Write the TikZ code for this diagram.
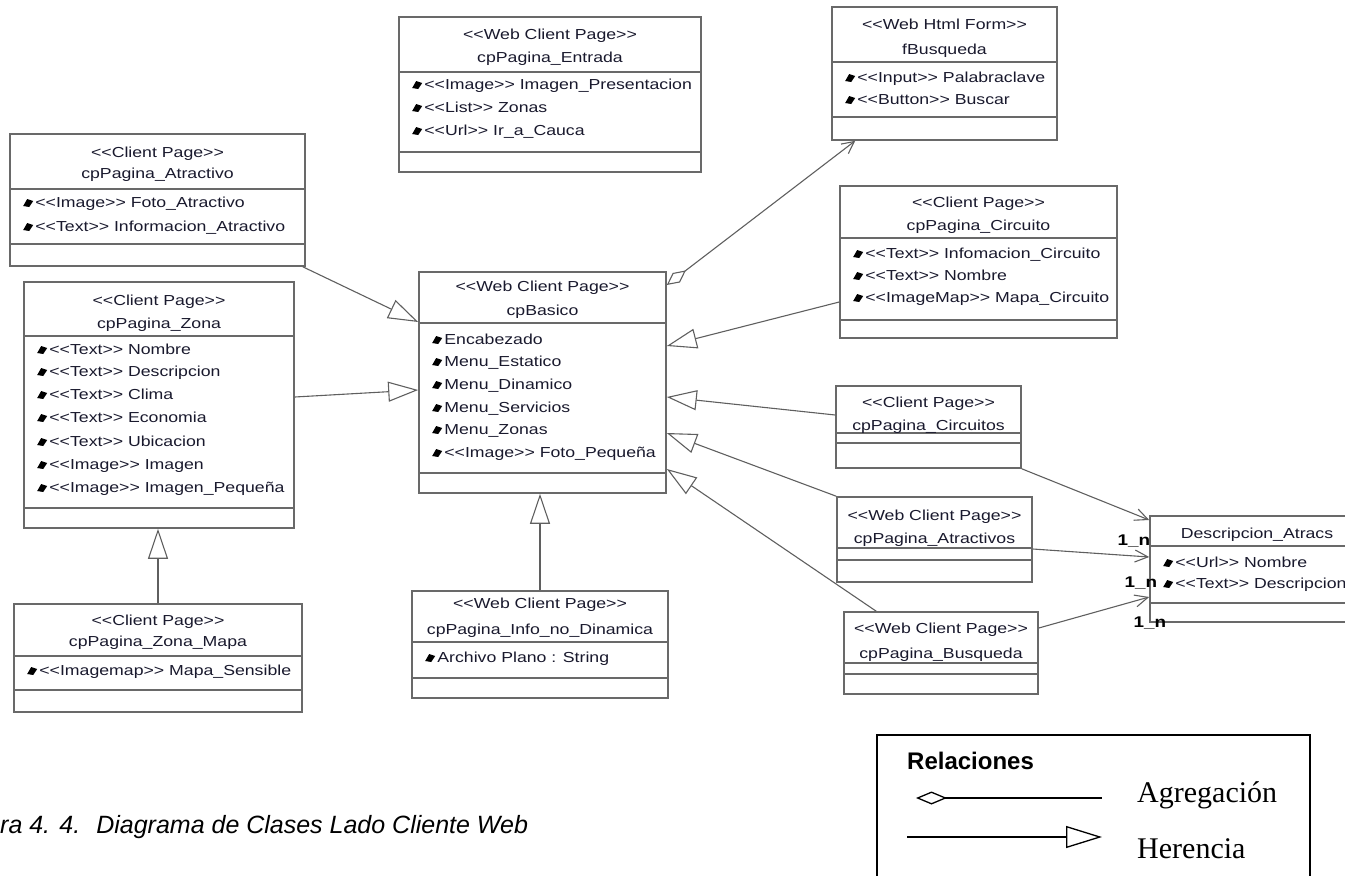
\documentclass[tikz,border=0pt]{standalone}
\usepackage{fontspec}
\newfontfamily\umlfont[FakeStretch=1.22]{Liberation Sans}
\newfontfamily\capfont{Liberation Sans}
\newfontfamily\legserif{Liberation Serif}
\usetikzlibrary{arrows.meta,fit,calc}

\definecolor{boxline}{RGB}{105,105,105}
\definecolor{connline}{RGB}{95,95,95}
\definecolor{umltext}{RGB}{25,25,45}

\tikzset{
  classbox/.style={draw=boxline, line width=1.6pt, inner sep=0pt, fill=white},
  comp/.style={draw=boxline, line width=1.6pt},
  ctext/.style={font=\umlfont\fontsize{14.5}{17}\selectfont, text=umltext, inner sep=0pt, anchor=base},
  atext/.style={ctext, anchor=base west},
  mult/.style={font=\umlfont\bfseries\fontsize{15.5}{18}\selectfont, text=black, inner sep=0pt},
  inherit/.style={draw=connline, line width=1.1pt, -{Triangle[open, length=30pt, width=20pt]}},
  assoc/.style={draw=connline, line width=1.1pt, -{Straight Barb[length=13pt, width=12pt]}},
  aggreg/.style={draw=connline, line width=1.1pt,
    {Diamond[open, length=24pt, width=12pt]}-{Straight Barb[length=12pt, width=12pt]}},
  attricon/.pic={\fill[black] (-5,3) -- (-1,-4) -- (5,-2) -- (1,4) -- cycle;},
  legline/.style={draw=black, line width=1.3pt},
}

% class frame: name, x1, y1, x2, y2, header line y, attribute separator y
\newcommand\classframe[7]{%
  \node[classbox, fit={(#2,#3)(#4,#5)}] (#1) {};
  \draw[comp] (#2,#6) -- (#4,#6) (#2,#7) -- (#4,#7);}
% class header: name, stereotype y, stereotype, class-name y, class name
\newcommand\classhead[5]{%
  \node[ctext] (#1-stereo) at ($(#1.north |- 0,#2)+(0,5)$) {#3};
  \node[ctext] (#1-name) at ($(#1.north |- 0,#4)+(0,5)$) {#5};}
% class name only
\newcommand\classname[3]{%
  \node[ctext] (#1-name) at ($(#1.north |- 0,#2)+(0,5)$) {#3};}
% attribute: class name, index, y, text
\newcommand\classattr[4]{%
  \pic at ($(#1.west |- 0,#3)+(19,1)$) {attricon};
  \node[atext] (#1-a#2) at ($(#1.west |- 0,#3)+(26,5)$) {#4};}

\begin{document}
\begin{tikzpicture}[x=1pt, y=-1pt]
\useasboundingbox (0,0) rectangle (1345,876);
\clip (0,0) rectangle (1345,876);

% ---------- classes ----------
\classframe{atractivo}{10}{134}{305}{266}{189}{244}
\classhead{atractivo}{152}{<<Client Page>>}{173}{cpPagina\_Atractivo}
\classattr{atractivo}{1}{202}{<<Image>> Foto\_Atractivo}
\classattr{atractivo}{2}{226}{<<Text>> Informacion\_Atractivo}

\classframe{zona}{24}{282}{294}{528}{336}{508}
\classhead{zona}{300}{<<Client Page>>}{323}{cpPagina\_Zona}
\classattr{zona}{1}{349}{<<Text>> Nombre}
\classattr{zona}{2}{371}{<<Text>> Descripcion}
\classattr{zona}{3}{394}{<<Text>> Clima}
\classattr{zona}{4}{417}{<<Text>> Economia}
\classattr{zona}{5}{441}{<<Text>> Ubicacion}
\classattr{zona}{6}{464}{<<Image>> Imagen}
\classattr{zona}{7}{487}{<<Image>> Imagen\_Pequeña}

\classframe{zonamapa}{14}{604}{302}{712}{656}{690}
\classhead{zonamapa}{620}{<<Client Page>>}{641}{cpPagina\_Zona\_Mapa}
\classattr{zonamapa}{1}{670}{<<Imagemap>> Mapa\_Sensible}

\classframe{entrada}{399}{17}{701}{172}{72}{152}
\classhead{entrada}{34}{<<Web Client Page>>}{57}{cpPagina\_Entrada}
\classattr{entrada}{1}{84}{<<Image>> Imagen\_Presentacion}
\classattr{entrada}{2}{107}{<<List>> Zonas}
\classattr{entrada}{3}{130}{<<Url>> Ir\_a\_Cauca}

\classframe{basico}{419}{272}{666}{493}{323}{473}
\classhead{basico}{286}{<<Web Client Page>>}{310}{cpBasico}
\classattr{basico}{1}{339}{Encabezado}
\classattr{basico}{2}{361}{Menu\_Estatico}
\classattr{basico}{3}{384}{Menu\_Dinamico}
\classattr{basico}{4}{407}{Menu\_Servicios}
\classattr{basico}{5}{429}{Menu\_Zonas}
\classattr{basico}{6}{452}{<<Image>> Foto\_Pequeña}

\classframe{info}{412}{591}{668}{698}{642}{678}
\classhead{info}{603}{<<Web Client Page>>}{629}{cpPagina\_Info\_no\_Dinamica}
\classattr{info}{1}{657}{Archivo Plano : String}

\classframe{fbusqueda}{832}{7}{1057}{140}{62}{117}
\classhead{fbusqueda}{24}{<<Web Html Form>>}{49}{fBusqueda}
\classattr{fbusqueda}{1}{77}{<<Input>> Palabraclave}
\classattr{fbusqueda}{2}{99}{<<Button>> Buscar}

\classframe{circuito}{840}{186}{1117}{338}{238}{320}
\classhead{circuito}{202}{<<Client Page>>}{225}{cpPagina\_Circuito}
\classattr{circuito}{1}{253}{<<Text>> Infomacion\_Circuito}
\classattr{circuito}{2}{275}{<<Text>> Nombre}
\classattr{circuito}{3}{297}{<<ImageMap>> Mapa\_Circuito}

\classframe{circuitos}{836}{386}{1021}{468}{433}{443}
\classhead{circuitos}{402}{<<Client Page>>}{425}{cpPagina\_Circuitos}

\classframe{atractivos}{837}{497}{1032}{582}{548}{560}
\classhead{atractivos}{515}{<<Web Client Page>>}{538}{cpPagina\_Atractivos}

\classframe{busqueda}{844}{612}{1038}{694}{663}{674}
\classhead{busqueda}{628}{<<Web Client Page>>}{653}{cpPagina\_Busqueda}

\classframe{descr}{1150}{516}{1364}{622}{546}{603}
\classname{descr}{533}{Descripcion\_Atracs}
\classattr{descr}{1}{562}{<<Url>> Nombre}
\classattr{descr}{2}{583}{<<Text>> Descripcion}

% ---------- generalisations ----------
\draw[inherit] ([xshift=-3pt]atractivo.south east) -- (basico.west |- 0,322);
\draw[inherit] (zona.east |- 0,397) -- (basico.west |- 0,390);
\draw[inherit] (zonamapa.north) -- (zonamapa.north |- zona.south);
\draw[inherit] (info.north) -- (info.north |- basico.south);
\draw[inherit] (circuito.west |- 0,302) -- (basico.east |- 0,346);
\draw[inherit] (circuitos.west |- 0,415) -- (basico.east |- 0,397);
\draw[inherit] (atractivos.north west) -- (basico.east |- 0,433);
\draw[inherit] ([xshift=33pt]busqueda.north west) -- (basico.east |- 0,469);

% ---------- aggregation ----------
\draw[aggreg] (basico.east |- 0,285) -- ([xshift=24pt]fbusqueda.south west);

% ---------- associations ----------
\draw[assoc] (circuitos.south east) -- (descr.west |- 0,520);
\draw[assoc] (atractivos.east |- 0,549) -- (descr.west |- 0,557);
\draw[assoc] (busqueda.east |- 0,628) -- (descr.west |- 0,597);

\node[mult] (m1) at (1134,541) {1\_n};
\node[mult] (m2) at (1141,583) {1\_n};
\node[mult] (m3) at (1150,623) {1\_n};

% ---------- caption ----------
\node[anchor=base west, inner sep=0pt, font=\capfont\itshape\fontsize{25}{30}\selectfont]
  (caption) at (0,833) {ra 4. 4.\hspace{16pt}Diagrama de Clases Lado Cliente Web};

% ---------- legend (its frame runs on past the lower edge) ----------
\node[draw=black, line width=1.3pt, inner sep=0pt, fit={(877,735)(1310,882)}] (legend) {};
\node[anchor=base west, inner sep=0pt, font=\capfont\bfseries\fontsize{24}{28}\selectfont]
  (legtitle) at (907,769) {Relaciones};
\coordinate (agg-a) at (916,798);
\coordinate (agg-b) at (1102,798);
\coordinate (her-a) at (907,837);
\coordinate (her-b) at (1102,837);
\draw[legline, {Diamond[open, length=31pt, width=13pt]}-] (agg-a) -- (agg-b);
\draw[legline, -{Triangle[open, length=36pt, width=22pt]}] (her-a) -- (her-b);
\node[anchor=base west, inner sep=0pt, font=\legserif\fontsize{30}{34}\selectfont]
  (legagg) at (1137,802) {Agregación};
\node[anchor=base west, inner sep=0pt, font=\legserif\fontsize{30}{34}\selectfont]
  (legher) at (1137,858) {Herencia};
\end{tikzpicture}
\end{document}
